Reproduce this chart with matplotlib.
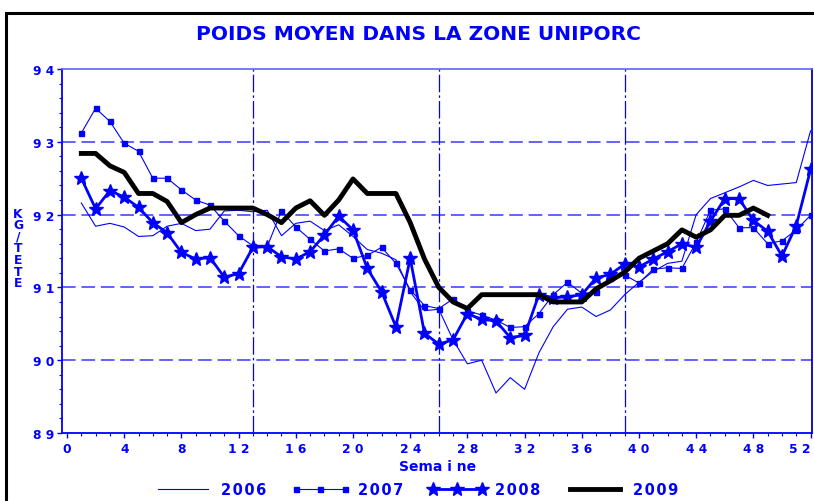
#### #### #### #### #### #### #### #### #### #### 
### Import functions

import numpy as np
import matplotlib
matplotlib.use('Agg')
import matplotlib.pyplot as plt
from matplotlib.lines import Line2D
from matplotlib.patches import Rectangle


#### #### #### #### #### #### #### #### #### #### 
#### DATA

weeks = np.arange(1, 53)

y2006 = [92.16, 91.84, 91.88, 91.83, 91.70, 91.71, 91.84, 91.88, 91.78, 91.80,
         92.05, 92.06, 92.04, 92.06, 91.71, 91.88, 91.91, 91.78, 91.86, 91.70,
         91.52, 91.47, 91.38, 90.94, 90.68, 90.70, 90.28, 89.95, 90.00, 89.55,
         89.76, 89.60, 90.10, 90.46, 90.70, 90.73, 90.60, 90.69, 90.90, 91.07,
         91.22, 91.33, 91.36, 92.00, 92.22, 92.30, 92.38, 92.47, 92.40, 92.42,
         92.44, 93.15]

y2007 = [93.12, 93.46, 93.28, 92.98, 92.87, 92.50, 92.50, 92.34, 92.20, 92.13,
         91.91, 91.71, 91.57, 91.56, 92.05, 91.83, 91.66, 91.50, 91.53, 91.40,
         91.44, 91.55, 91.33, 90.97, 90.75, 90.71, 90.84, 90.68, 90.62, 90.55,
         90.45, 90.46, 90.64, 90.90, 91.07, 90.92, 90.93, 91.13, 91.17, 91.06,
         91.25, 91.27, 91.26, 91.62, 92.06, 92.08, 91.82, 91.82, 91.60, 91.64,
         91.79, 91.99]

y2008 = [92.50, 92.08, 92.33, 92.24, 92.10, 91.89, 91.75, 91.48, 91.39, 91.41,
         91.14, 91.19, 91.55, 91.56, 91.42, 91.39, 91.49, 91.72, 91.98, 91.79,
         91.26, 90.94, 90.46, 91.40, 90.37, 90.22, 90.28, 90.64, 90.56, 90.54,
         90.31, 90.34, 90.90, 90.86, 90.87, 90.90, 91.13, 91.18, 91.32, 91.28,
         91.39, 91.49, 91.60, 91.55, 91.91, 92.22, 92.22, 91.92, 91.77, 91.43,
         91.85, 92.62]

y2009 = [92.84, 92.84, 92.67, 92.58, 92.29, 92.29, 92.18, 91.89, 92.00, 92.09,
         92.09, 92.09, 92.09, 92.00, 91.89, 92.09, 92.19, 91.99, 92.20, 92.49,
         92.29, 92.29, 92.29, 91.89, 91.39, 91.00, 90.80, 90.71, 90.90, 90.90,
         90.90, 90.90, 90.90, 90.80, 90.80, 90.80, 90.98, 91.09, 91.21, 91.40,
         91.50, 91.60, 91.79, 91.69, 91.79, 91.99, 91.99, 92.09, 91.99]

labels = ['2006', '2007', '2008', '2009']

xticks = list(range(0, 53, 4))
yticks = [89, 90, 91, 92, 93, 94]
hgrid = [90, 91, 92, 93]
vgrid = [13, 26, 39]

title = 'POIDS MOYEN DANS LA ZONE UNIPORC'
xlabel = 'Sema i ne'
ylabel = 'KG/TETE'


#### #### #### #### #### #### #### #### #### #### 
#### PLOT

blue = '#0000ff'
plt.rcParams['font.family'] = 'DejaVu Sans'
plt.rcParams['font.weight'] = 'bold'

W, H = 814, 502
fig = plt.figure(figsize=(W/100, H/100), dpi=100)
ax = fig.add_axes([62/W, 1-434/H, 750/W, 364/H])

for v in hgrid:
	ax.axhline(v, color='#6262ff', lw=1.4, ls=(0, (7, 3)), zorder=1)
for v in vgrid:
	ax.axvline(v, color=blue, lw=0.9, ls=(0, (14, 2.5, 2, 2.5)), zorder=1)

ax.plot(weeks, y2006, color=blue, lw=0.8, zorder=3)
ax.plot(weeks, y2007, color=blue, lw=0.8, marker='s', ms=3.6, zorder=4)
ax.plot(weeks, y2008, color=blue, lw=2.0, marker='*', ms=10, zorder=5)
ax.plot(weeks[:len(y2009)], y2009, color='black', lw=3.5, zorder=6)

ax.set_xlim(-0.35, 52.1)
ax.set_ylim(89, 94)

ax.set_xticks(xticks)
ax.set_xticklabels([' '.join(str(t)) for t in xticks])
ax.set_xticks(range(0, 53), minor=True)
ax.set_yticks(yticks)
ax.set_yticklabels([' '.join(str(t)) for t in yticks])
ax.set_yticks(np.arange(89, 94.01, 0.2), minor=True)

ax.tick_params(which='major', direction='out', length=3.6, width=1, color=blue,
               labelcolor=blue, labelsize=8.8)
ax.tick_params(which='minor', direction='out', length=2, width=0.8, color=blue)
ax.tick_params(axis='x', which='major', pad=3)
ax.tick_params(axis='y', which='major', pad=2)

# last week label sits against the right edge
ax.get_xticklabels()[-1].set_ha('right')

for s in ['left', 'bottom']:
	ax.spines[s].set_color(blue)
	ax.spines[s].set_linewidth(1.3)
ax.spines['top'].set_color('#6262ff')
ax.spines['top'].set_linewidth(1.2)
ax.spines['right'].set_color('#0000cc')
ax.spines['right'].set_linewidth(1.3)

# texts
fig.text(418/W, 1-35/H, title, ha='center', va='center', color=blue, fontsize=14.5)
fig.text(438/W, 1-467/H, xlabel, ha='center', va='center', color=blue, fontsize=10)
fig.text(18/W, 1-249/H, '\n'.join(ylabel), ha='center', va='center', color=blue,
         fontsize=8.8, linespacing=0.86, multialignment='center')

# legend
handles = [Line2D([], [], color=blue, lw=0.8),
           Line2D([], [], color=blue, lw=0.8, marker='s', ms=3.6),
           Line2D([], [], color=blue, lw=2.0, marker='*', ms=10),
           Line2D([], [], color='black', lw=3.5)]
fig.legend(handles, ['\u200a'.join(l) for l in labels], loc='center',
           bbox_to_anchor=(416/W, 1-491/H), ncol=4, frameon=False, numpoints=3,
           handlelength=4.0, handletextpad=0.6, columnspacing=1.7,
           prop=dict(weight='bold', size=10.5), labelcolor=blue)

# outer frame
fig.patches.append(Rectangle((6/W, -0.1), 1.2, 1.1-14/H, transform=fig.transFigure,
                             fill=False, ec='black', lw=2.2))

plt.savefig('out.png', dpi=100)
